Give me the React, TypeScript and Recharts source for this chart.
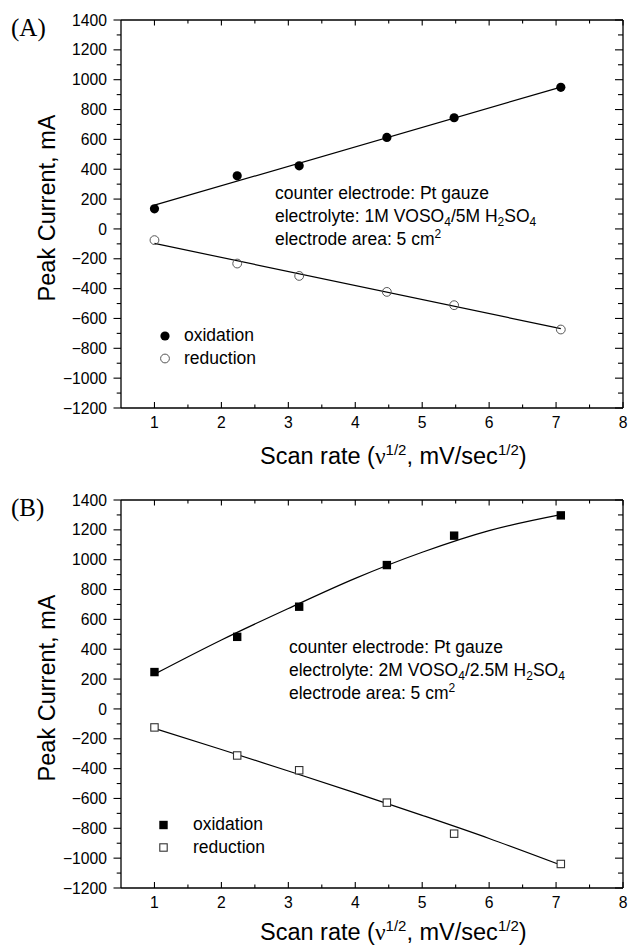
import React from "react";
import { ComposedChart, Scatter, Line, XAxis, YAxis, Legend } from "recharts";

// scan rate = sqrt(v) for v = 1, 5, 10, 20, 30, 50 mV/s
const scanRate = [1, 2.236, 3.162, 4.472, 5.477, 7.071];

const oxidationA = [135, 356, 423, 613, 745, 949];
const reductionA = [-75, -232, -315, -422, -511, -674];
const oxidationB = [247, 483, 685, 964, 1161, 1297];
const reductionB = [-124, -312, -411, -628, -836, -1039];

// fitted lines
const fitXA = [1, 7.071];
const fitOxidationA = [159, 950];
const fitReductionA = [-97, -668];
const fitXB = [1, 2, 3, 4, 5, 6, 7.071];
const fitOxidationB = [233, 462, 673, 875, 1050, 1195, 1302];
const fitReductionB = [-131, -272, -416, -563, -713, -868, -1046];

const xTicks = [1, 1.5, 2, 2.5, 3, 3.5, 4, 4.5, 5, 5.5, 6, 6.5, 7, 7.5, 8];
const yTicks = [
  -1200, -1100, -1000, -900, -800, -700, -600, -500, -400, -300, -200, -100, 0,
  100, 200, 300, 400, 500, 600, 700, 800, 900, 1000, 1100, 1200, 1300, 1400,
];

const FONT = '"Liberation Sans", Arial, Helvetica, sans-serif';
const SERIF = '"Liberation Serif", "Times New Roman", serif';
const AXIS = { stroke: "#000", strokeWidth: 1.3 };

type Pt = { x: number; y: number };
const zip = (xs: number[], ys: number[]): Pt[] =>
  xs.map((x, i) => ({ x, y: ys[i] }));

const isMajorX = (v: number) => Number.isInteger(v);
const isMajorY = (v: number) => v % 200 === 0;
const fmtY = (v: number) => (v < 0 ? `\u2212${-v}` : `${v}`);

function LeftTick({ x, y, payload }: any) {
  const major = isMajorY(payload.value);
  return (
    <g>
      <line x1={x - (major ? 7.5 : 4.3)} x2={x} y1={y} y2={y} stroke="#000" strokeWidth={1.1} />
      {major && (
        <text x={x - 14} y={y} dy="0.36em" textAnchor="end" fontSize={15.7} fontFamily={FONT} fill="#000">
          {fmtY(payload.value)}
        </text>
      )}
    </g>
  );
}

function RightTick({ x, y, payload }: any) {
  const major = isMajorY(payload.value);
  return <line x1={x - (major ? 8 : 5)} x2={x} y1={y} y2={y} stroke="#000" strokeWidth={1.1} />;
}

function BottomTick({ x, y, payload }: any) {
  const major = isMajorX(payload.value);
  return (
    <g>
      <line x1={x} x2={x} y1={y} y2={y - (major ? 6 : 3.5)} stroke="#000" strokeWidth={1.1} />
      {major && (
        <text x={x} y={y + 20} textAnchor="middle" fontSize={15.7} fontFamily={FONT} fill="#000">
          {payload.value}
        </text>
      )}
    </g>
  );
}

function TopTick({ x, y, payload }: any) {
  const major = isMajorX(payload.value);
  return <line x1={x} x2={x} y1={y} y2={y + (major ? 5.5 : 3.5)} stroke="#000" strokeWidth={1.1} />;
}

function makeXTitle(dy: number) {
  return function XTitle({ viewBox }: any) {
    return (
      <text x={viewBox.x + 139} y={viewBox.y + dy} fontSize={23.5} fontFamily={FONT} fill="#000">
        Scan rate (<tspan fontFamily={SERIF}>ν</tspan>
        <tspan fontSize={15} dy={-9}>1/2</tspan>
        <tspan dy={9}>, mV/sec</tspan>
        <tspan fontSize={15} dy={-9}>1/2</tspan>
        <tspan dy={9}>)</tspan>
      </text>
    );
  };
}

function YTitle({ viewBox }: any) {
  const cx = viewBox.x + 55;
  const cy = viewBox.y + viewBox.height / 2 - 6;
  return (
    <text
      x={cx}
      y={cy}
      transform={`rotate(-90 ${cx} ${cy})`}
      textAnchor="middle"
      fontSize={23.5}
      fontFamily={FONT}
      fill="#000"
    >
      Peak Current, mA
    </text>
  );
}

type MarkerKind = "circle" | "square";

function Marker({ kind, filled, cx, cy }: { kind: MarkerKind; filled: boolean; cx: number; cy: number }) {
  if (kind === "circle") {
    return filled ? (
      <circle cx={cx} cy={cy} r={4.6} fill="#000" />
    ) : (
      <circle cx={cx} cy={cy} r={4.4} fill="none" stroke="#555" strokeWidth={1} />
    );
  }
  return filled ? (
    <rect x={cx - 4.2} y={cy - 4.2} width={8.4} height={8.4} fill="#000" />
  ) : (
    <rect x={cx - 3.7} y={cy - 3.7} width={7.4} height={7.4} fill="#fff" stroke="#333" strokeWidth={1.1} />
  );
}

function LegendBox({ kind, markerX, textX }: { kind: MarkerKind; markerX: number; textX: number }) {
  const rows = [
    { name: "oxidation", filled: true, y: 16 },
    { name: "reduction", filled: false, y: 38.5 },
  ];
  return (
    <svg width={140} height={52} style={{ display: "block" }}>
      {rows.map((r) => (
        <g key={r.name}>
          <Marker kind={kind} filled={r.filled} cx={markerX} cy={r.y} />
          <text x={textX} y={r.y + 5} fontSize={17.5} fontFamily={FONT} fill="#000">
            {r.name}
          </text>
        </g>
      ))}
    </svg>
  );
}

type PanelProps = {
  tag: string;
  electrolyte: [string, string];
  oxidation: number[];
  reduction: number[];
  fitX: number[];
  fitOxidation: number[];
  fitReduction: number[];
  curve: "linear" | "monotone";
  kind: MarkerKind;
  note: { x: number; y: number };
  legend: { left: number; top: number; markerX: number; textX: number };
  titleDy: number;
};

function Panel(p: PanelProps) {
  const ox = zip(scanRate, p.oxidation);
  const red = zip(scanRate, p.reduction);
  const fitOx = zip(p.fitX, p.fitOxidation);
  const fitRed = zip(p.fitX, p.fitReduction);
  const sub = { fontSize: 12, dy: 4 };
  return (
    <div style={{ position: "relative", width: 630, height: 480 }}>
      <ComposedChart width={630} height={470} margin={{ top: 20, right: 7, bottom: 12, left: 0 }}>
        <XAxis
          xAxisId="b"
          type="number"
          dataKey="x"
          domain={[0.5, 8]}
          ticks={xTicks}
          interval={0}
          allowDataOverflow
          height={50}
          tickSize={0}
          tickMargin={0}
          tickLine={false}
          axisLine={AXIS}
          tick={BottomTick}
          label={{ content: makeXTitle(p.titleDy) }}
        />
        <XAxis
          xAxisId="t"
          orientation="top"
          mirror
          type="number"
          dataKey="x"
          domain={[0.5, 8]}
          ticks={xTicks}
          interval={0}
          allowDataOverflow
          tickSize={0}
          tickMargin={0}
          tickLine={false}
          axisLine={AXIS}
          tick={TopTick}
        />
        <YAxis
          yAxisId="l"
          type="number"
          dataKey="y"
          domain={[-1200, 1400]}
          ticks={yTicks}
          interval={0}
          allowDataOverflow
          width={121}
          tickSize={0}
          tickMargin={0}
          tickLine={false}
          axisLine={AXIS}
          tick={LeftTick}
          label={{ content: YTitle }}
        />
        <YAxis
          yAxisId="r"
          orientation="right"
          mirror
          type="number"
          dataKey="y"
          domain={[-1200, 1400]}
          ticks={yTicks}
          interval={0}
          allowDataOverflow
          tickSize={0}
          tickMargin={0}
          tickLine={false}
          axisLine={AXIS}
          tick={RightTick}
        />
        <Line
          xAxisId="b"
          yAxisId="l"
          data={fitOx}
          dataKey="y"
          type={p.curve}
          stroke="#000"
          strokeWidth={1.2}
          dot={false}
          activeDot={false}
          legendType="none"
          isAnimationActive={false}
        />
        <Line
          xAxisId="b"
          yAxisId="l"
          data={fitRed}
          dataKey="y"
          type={p.curve}
          stroke="#000"
          strokeWidth={1.2}
          dot={false}
          activeDot={false}
          legendType="none"
          isAnimationActive={false}
        />
        <Scatter
          xAxisId="b"
          yAxisId="l"
          name="oxidation"
          data={ox}
          isAnimationActive={false}
          shape={(s: any) => <Marker kind={p.kind} filled cx={s.cx} cy={s.cy} />}
        />
        <Scatter
          xAxisId="b"
          yAxisId="l"
          name="reduction"
          data={red}
          isAnimationActive={false}
          shape={(s: any) => <Marker kind={p.kind} filled={false} cx={s.cx} cy={s.cy} />}
        />
        <Legend
          layout="vertical"
          align="center"
          verticalAlign="middle"
          wrapperStyle={{ left: p.legend.left, top: p.legend.top, width: 140, height: 52 }}
          content={() => <LegendBox kind={p.kind} markerX={p.legend.markerX} textX={p.legend.textX} />}
        />
      </ComposedChart>
      <svg
        width={630}
        height={470}
        style={{ position: "absolute", left: 0, top: 0, pointerEvents: "none" }}
      >
        <text x={11} y={36} fontSize={25} fontFamily={SERIF} fill="#000">
          {p.tag}
        </text>
        <g fontSize={17.5} fontFamily={FONT} fill="#000">
          <text x={p.note.x} y={p.note.y}>counter electrode: Pt gauze</text>
          <text x={p.note.x} y={p.note.y + 23}>
            electrolyte: {p.electrolyte[0]} VOSO<tspan {...sub}>4</tspan>
            <tspan dy={-4}>/{p.electrolyte[1]} H</tspan>
            <tspan {...sub}>2</tspan>
            <tspan dy={-4}>SO</tspan>
            <tspan {...sub}>4</tspan>
          </text>
          <text x={p.note.x} y={p.note.y + 46}>
            electrode area: 5 cm<tspan fontSize={12} dy={-7}>2</tspan>
          </text>
        </g>
      </svg>
    </div>
  );
}

export default function App() {
  return (
    <div
      style={{
        position: "absolute",
        left: 0,
        top: 0,
        width: 630,
        height: 947,
        overflow: "hidden",
        background: "#fff",
      }}
    >
      <Panel
        tag="(A)"
        electrolyte={["1M", "5M"]}
        oxidation={oxidationA}
        reduction={reductionA}
        fitX={fitXA}
        fitOxidation={fitOxidationA}
        fitReduction={fitReductionA}
        curve="linear"
        kind="circle"
        note={{ x: 275, y: 199 }}
        legend={{ left: 150, top: 320, markerX: 15, textX: 34 }}
        titleDy={56}
      />
      <Panel
        tag="(B)"
        electrolyte={["2M", "2.5M"]}
        oxidation={oxidationB}
        reduction={reductionB}
        fitX={fitXB}
        fitOxidation={fitOxidationB}
        fitReduction={fitReductionB}
        curve="monotone"
        kind="square"
        note={{ x: 289, y: 173 }}
        legend={{ left: 150, top: 329, markerX: 13.5, textX: 43 }}
        titleDy={52}
      />
    </div>
  );
}
